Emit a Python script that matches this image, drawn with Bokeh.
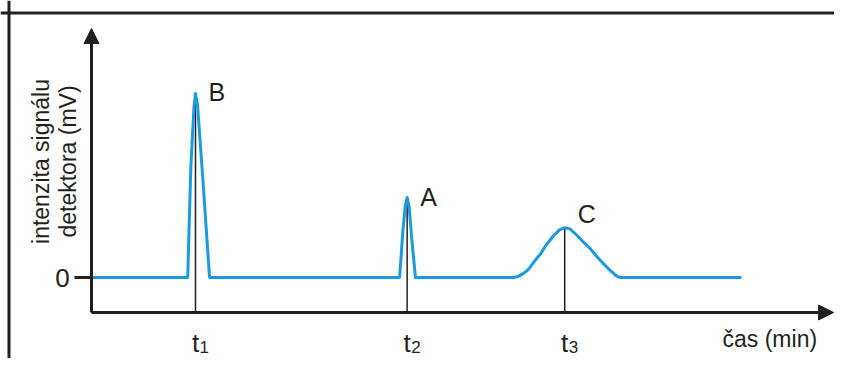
import numpy as np
from bokeh.plotting import figure
from bokeh.models import Range1d, Arrow, NormalHead, Span, ColumnDataSource
from bokeh.core.properties import value
from bokeh.embed import file_html
from bokeh.resources import INLINE

# ---- data (time in min, signal in mV) ----
time_min = [0.0, 3.70, 3.82, 3.94, 4.00, 4.08, 4.30, 4.54,
            11.85, 11.98, 12.07, 12.14, 12.22, 12.32, 12.46,
            16.24, 16.40, 16.50, 16.63, 16.76, 16.88, 17.00, 17.13, 17.27, 17.50,
            17.78, 18.00, 18.20, 18.40, 18.68, 18.90, 19.19, 19.40, 19.70, 19.95,
            20.07, 20.15, 20.25, 20.35, 25.0]
signal_mv = [0.0, 0.0, 55.0, 85.0, 92.0, 86.0, 46.0, 0.0,
             0.0, 24.0, 36.0, 40.0, 35.0, 19.0, 0.0,
             0.0, 0.5, 1.2, 2.2, 3.5, 5.3, 7.5, 9.6, 11.8, 16.5,
             21.0, 23.8, 24.9, 24.3, 21.0, 18.0, 14.3, 11.0, 6.8, 3.5,
             2.2, 1.2, 0.4, 0.0, 0.0]

peak_names = ["B", "A", "C"]
peak_times = [4.00, 12.14, 18.20]
peak_heights = [92.0, 40.0, 24.9]
tick_main = ["t", "t", "t"]
tick_subs = ["1", "2", "3"]
zero_label = "0"
x_title = "čas (min)"
y_title_lines = ["intenzita signálu", "detektora (mV)"]

axis_y = -17.5       # level where the time axis is drawn
y_axis_top = 124.5
x_axis_end = 28.54

FONT = "Liberation Sans"
INK = "#231f20"
BLUE = "#1a9be0"

p = figure(width=834, height=358, output_backend="svg", toolbar_location=None,
           x_range=Range1d(-3.5, 28.577), y_range=Range1d(-40.5, 138.5),
           min_border=0)
p.axis.visible = False
p.grid.visible = False
p.outline_line_color = None
p.background_fill_color = "white"
p.border_fill_color = "white"

# frame (top and left edges)
p.add_layout(Span(location=132.25, dimension="width", line_color=INK, line_width=3))
p.add_layout(Span(location=-3.173, dimension="height", line_color=INK, line_width=3))

# axes with arrows
p.add_layout(Arrow(end=NormalHead(size=15, fill_color=INK, line_color=INK, line_width=1),
                   x_start=0, y_start=axis_y, x_end=0, y_end=y_axis_top,
                   line_color=INK, line_width=3))
p.add_layout(Arrow(end=NormalHead(size=15, fill_color=INK, line_color=INK, line_width=1),
                   x_start=0, y_start=axis_y, x_end=x_axis_end, y_end=axis_y,
                   line_color=INK, line_width=3))

# zero tick
p.segment(x0=[-0.654], y0=[0], x1=[0], y1=[0], line_color=INK, line_width=3)
p.text(x=[-0.84], y=[0], text=[zero_label], text_font=value(FONT), text_font_size="26px",
       text_align="right", text_baseline="middle", text_color=INK)

# drop lines from peaks to the axis
p.segment(x0=peak_times, y0=peak_heights, x1=peak_times, y1=[axis_y] * 3,
          line_color=INK, line_width=1.5)

# chromatogram
p.line(time_min, signal_mv, line_color=BLUE, line_width=3, line_join="round")

# peak labels
src = ColumnDataSource(dict(x=peak_times, y=peak_heights, name=peak_names,
                            yo=[-2, -1, -14]))
p.text(x="x", y="y", text="name", source=src, x_offset=13, y_offset="yo",
       text_font=value(FONT), text_font_size="25px", text_align="left",
       text_baseline="middle", text_color=INK)

# tick labels t1, t2, t3
p.text(x=peak_times, y=[-32.5] * 3, text=tick_main, text_font=value(FONT),
       text_font_size="26px", text_align="center", text_baseline="alphabetic",
       text_color=INK, x_offset=0)
p.text(x=peak_times, y=[-34.5] * 3, text=tick_subs, text_font=value(FONT),
       text_font_size="17px", text_align="left", text_baseline="alphabetic",
       text_color=INK, x_offset=4)

# axis titles
p.text(x=[24.27], y=[-30.5], text=[x_title], text_font=value(FONT), text_font_size="23px",
       text_align="left", text_baseline="middle", text_color=INK)
p.text(x=[-1.96, -0.92], y=[58, 58], text=y_title_lines, angle=np.pi / 2,
       text_font=value(FONT), text_font_size="23px", text_align="center",
       text_baseline="middle", text_color=INK)

open("out.html", "w").write(file_html(p, INLINE))
